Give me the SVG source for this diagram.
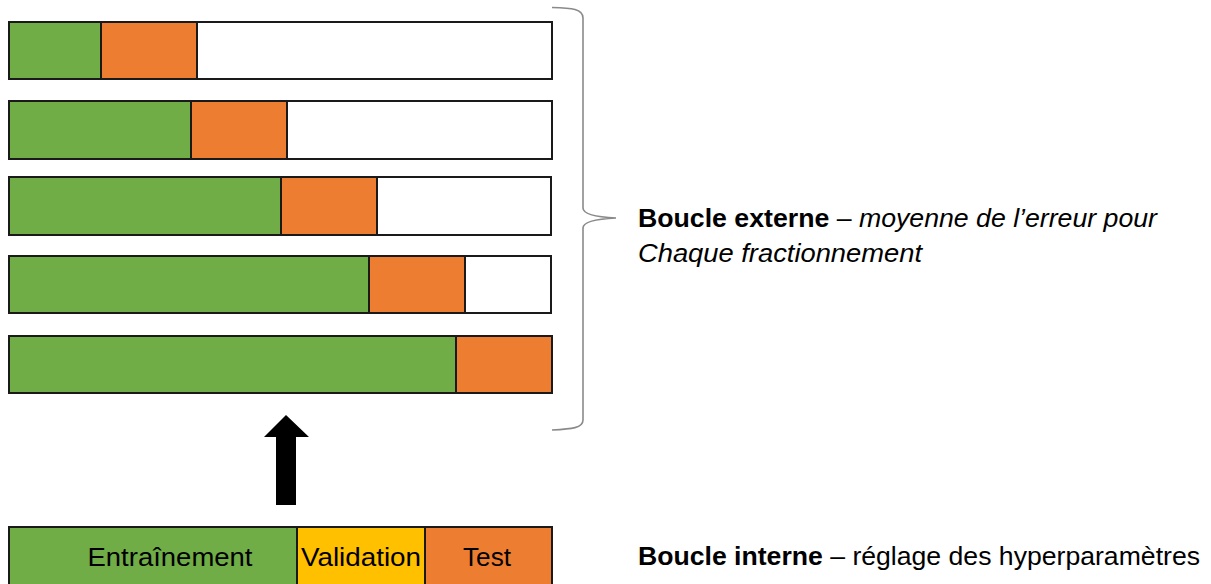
<svg xmlns="http://www.w3.org/2000/svg" width="1211" height="584" viewBox="0 0 1211 584">
<style>
.g{fill:#70AD47}.o{fill:#ED7D31}.w{fill:#FFFFFF}.y{fill:#FFC000}
.seg{stroke:#1a1a1a;stroke-width:2}
.t{font-family:"Liberation Sans",Arial,sans-serif;font-size:26px;fill:#000}
.brace{fill:none;stroke:#8a8a8a;stroke-width:1.6}
</style>
<rect width="1211" height="584" fill="#fff"/>
<g id="fold1"><rect class="seg g" x="9" y="22" width="92" height="57"/><rect class="seg o" x="101" y="22" width="96" height="57"/><rect class="seg w" x="197" y="22" width="355" height="57"/></g>
<g id="fold2"><rect class="seg g" x="9" y="101" width="182" height="58"/><rect class="seg o" x="191" y="101" width="96" height="58"/><rect class="seg w" x="287" y="101" width="265" height="58"/></g>
<g id="fold3"><rect class="seg g" x="9" y="177" width="272" height="58"/><rect class="seg o" x="281" y="177" width="96" height="58"/><rect class="seg w" x="377" y="177" width="174" height="58"/></g>
<g id="fold4"><rect class="seg g" x="9" y="256" width="360" height="57"/><rect class="seg o" x="369" y="256" width="96" height="57"/><rect class="seg w" x="465" y="256" width="86" height="57"/></g>
<g id="fold5"><rect class="seg g" x="9" y="336" width="447" height="57"/><rect class="seg o" x="456" y="336" width="96" height="57"/></g>
<g id="inner">
<rect class="seg g" x="9" y="527" width="288" height="60"/><rect class="seg y" x="297" y="527" width="128" height="60"/><rect class="seg o" x="425" y="527" width="127" height="60"/>
<text class="t" x="170" y="566" text-anchor="middle" textLength="165" lengthAdjust="spacingAndGlyphs">Entraînement</text>
<text class="t" x="361" y="566" text-anchor="middle" textLength="120" lengthAdjust="spacingAndGlyphs">Validation</text>
<text class="t" x="487" y="566" text-anchor="middle" textLength="48" lengthAdjust="spacingAndGlyphs">Test</text>
</g>
<g id="connectors">
<path d="M552,7.5 C572,8 583,9 583,18 L583,208 C583,214 595,217 616,218 C595,219 583,222 583,228 L583,420 C583,428 572,429 552,430" class="brace"/>
<polygon points="286,415 309,437 296,437 296,505 276,505 276,437 264,437" fill="#000"/>
</g>
<g id="label-outer">
<text class="t" x="638" y="227" textLength="519" lengthAdjust="spacingAndGlyphs"><tspan font-weight="bold">Boucle externe</tspan> – <tspan font-style="italic">moyenne de l’erreur pour</tspan></text>
<text class="t" x="638" y="262" font-style="italic" textLength="284" lengthAdjust="spacingAndGlyphs">Chaque fractionnement</text>
</g>
<g id="label-inner">
<text class="t" x="638" y="565" textLength="562" lengthAdjust="spacingAndGlyphs"><tspan font-weight="bold">Boucle interne</tspan> – réglage des hyperparamètres</text>
</g>
</svg>
